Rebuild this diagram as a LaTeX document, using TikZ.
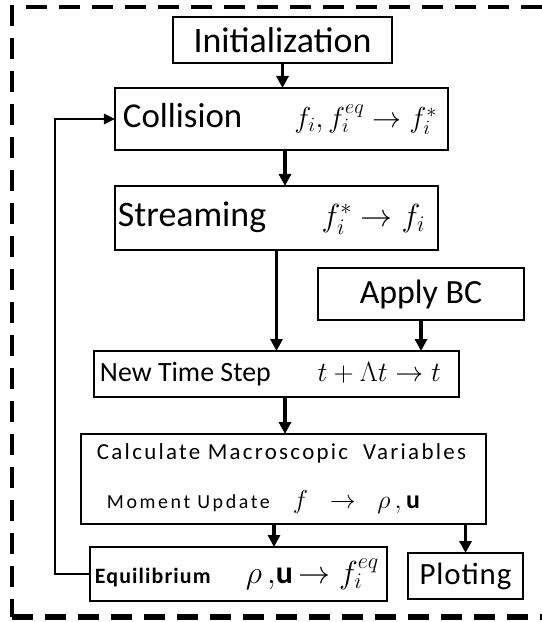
\RequirePackage{fix-cm}
\documentclass[tikz,border=0pt]{standalone}
\usepackage{fontspec}
\setmainfont{Carlito}
\usetikzlibrary{arrows.meta}

\tikzset{
  box/.style={draw, line width=2bp, inner sep=0pt, outer sep=0pt, anchor=center},
  flow/.style={line width=3.5bp, -{Triangle[length=12bp,width=12bp]}},
  loopline/.style={line width=2.5bp, -{Triangle[length=11bp,width=10bp]}},
  frame/.style={line width=4.5bp, dash pattern=on 21bp off 12bp},
}

\begin{document}
\begin{tikzpicture}[x=1bp,y=-1bp]
\useasboundingbox (0,0) rectangle (542,622);

% dashed outline of the solver loop
\draw[frame] (542,7) -- (12,7) -- (12,617);
\draw[frame, line width=6bp] (12,617) -- (542,617);

% process boxes
\node[box, minimum width=219bp, minimum height=46bp] (init) at (282.5,40)
  {\fontsize{36}{40}\selectfont Initialization};

\node[box, minimum width=333bp, minimum height=62bp] (coll) at (281.5,119)
  {\fontsize{35}{40}\selectfont\hbox to 333bp{\hspace*{8bp}Collision\hfill
   {\fontsize{29}{34}\selectfont$f_{i},f_{i}^{eq}\rightarrow f_{i}^{*}$}\hspace*{11bp}}};

\node[box, minimum width=323bp, minimum height=64bp] (stream) at (276.5,218)
  {\fontsize{36}{40}\selectfont\hbox to 323bp{\hspace*{3bp}Streaming\hfill
   {\fontsize{32}{36}\selectfont$f_{i}^{*}\rightarrow f_{i}$}\hspace*{13bp}}};

\node[box, minimum width=206bp, minimum height=52bp] (bc) at (421,294)
  {\fontsize{34}{40}\selectfont Apply BC};

\node[box, minimum width=365bp, minimum height=46bp] (nts) at (276.5,374)
  {\fontsize{28}{32}\selectfont\hbox to 365bp{\hspace*{6bp}New Time Step\hfill
   $t+\Lambda t\rightarrow t$\hspace*{18bp}}};

\node[box, minimum width=405bp, minimum height=90bp] (calc) at (283.5,479)
  {\vbox{\baselineskip=49bp\lineskiplimit=-1000bp\lineskip=0pt
   \hbox to 405bp{\fontsize{23}{28}\selectfont\addfontfeature{LetterSpace=10}%
     \hspace*{16bp}Calculate Macroscopic\ \ Variables\hfill\hspace*{9bp}}
   \hbox to 405bp{\fontsize{20}{24}\selectfont
     \hspace*{26bp}{\addfontfeature{LetterSpace=13}Moment Update}\hfill
     {\fontsize{26}{30}\selectfont$f\;\;\rightarrow\;\;\rho\,,$\,\textbf{u}}\hspace*{66bp}}}};

\node[box, minimum width=297bp, minimum height=54bp] (eq) at (238.5,574)
  {\hbox to 297bp{\fontsize{22}{26}\selectfont
   \hspace*{5bp}{\bfseries\addfontfeature{LetterSpace=5}Equilibrium}\hfill
   {\fontsize{32}{36}\selectfont$\rho\,,$\textbf{u}$\,\rightarrow f_{i}^{eq}$}\hspace*{8bp}}};

\node[box, minimum width=115bp, minimum height=46bp] (plot) at (465.5,576)
  {\fontsize{31}{36}\selectfont\addfontfeature{LetterSpace=3}Ploting};

% connectors
\draw[flow] (init.south) -- (init.south |- coll.north);
\draw[flow] ([xshift=3.5bp]coll.south) -- ([xshift=3.5bp]coll.south |- stream.north);
\draw[flow] (stream.south) -- (stream.south |- nts.north);
\draw[flow] (bc.south) -- (bc.south |- nts.north);
\draw[flow] ([xshift=8.5bp]nts.south) -- ([xshift=8.5bp]nts.south |- calc.north);
\draw[flow] ([xshift=35.5bp]eq.north |- calc.south) -- ([xshift=35.5bp]eq.north);
\draw[flow] (plot.north |- calc.south) -- (plot.north);
\draw[loopline] (eq.west) -- ++(-35,0) |- (coll.west);
\end{tikzpicture}
\end{document}
